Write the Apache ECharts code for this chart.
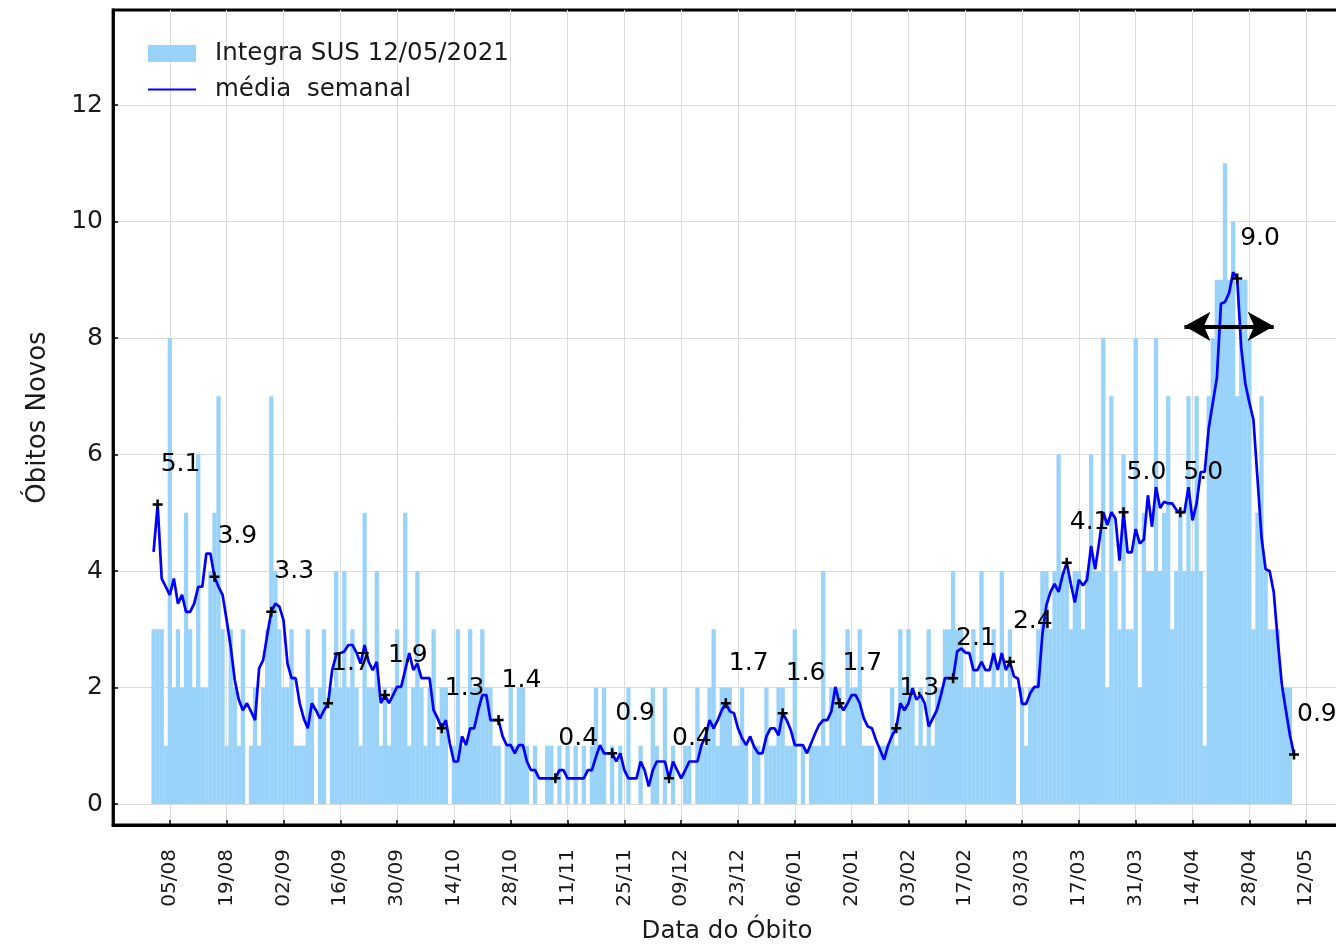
<!DOCTYPE html>
<html><head><meta charset="utf-8">
<script src="https://cdn.jsdelivr.net/npm/echarts@6/dist/echarts.min.js"></script>
<style>html,body{margin:0;padding:0;background:#fff}#c{width:1336px;height:944px}</style>
</head><body><div id="c"></div>
<script>
// ---- data ----
const startDate = '2020-08-01';   // date of first daily value
const originDate = '2020-08-05';  // first labelled tick
const obitos = [
3,3,3,1,8,2,3,2,5,3, 2,6,2,2,4,5,7,3,1,3, 2,1,3,0,1,2,1,2,3,7, 4,3,2,2,
3,1,1,1,3,2,0,2,3,0, 2,4,2,4,2,3,2,1,5,2, 2,4,1,2,1,2,3,2,5,1, 2,4,2,1,2,3,
1,2,2,0,1,3,1,1,3,2, 2,3,2,2,1,1,0,1,2,1, 2,2,1,0,1,0,0,1,1,0, 1,0,1,0,1,0,
1,0,1,2,1,2,0,1,0,1, 0,2,0,0,1,0,0,2,1,0, 2,0,1,0,0,1,1,0,2,1, 1,2,3,1,2,2,
2,1,1,2,1,0,1,1,0,2, 1,1,2,2,1,1,3,0,1,0, 1,1,1,4,1,2,2,2,1,3, 2,2,3,1,1,
1,0,1,1,1,2,1,3,2,3, 2,1,2,1,3,1,2,2,3,3, 4,3,3,2,2,3,2,4,2,2, 3,2,4,2,3,2,
0,2,1,2,2,3,4,4,3,4, 6,4,4,3,4,4,3,4,6,4, 4,8,2,7,4,3,6,3,3,8, 2,5,4,4,8,4,
5,7,3,4,5,4,7,4,7,4, 1,7,8,9,9,11,9,10,7,9, 9,8,3,5,7,4,3,3,3,2, 2,2
];
const media = [
4.33,5.14,3.87,3.73,3.59,3.87,3.44,3.59,3.30,3.30,
3.44,3.73,3.73,4.30,4.30,3.90,3.73,3.59,3.16,2.70,
2.13,1.79,1.61,1.73,1.59,1.44,2.33,2.47,2.90,3.30,
3.44,3.39,3.16,2.41,2.16,2.16,1.73,1.47,1.30,1.73,
1.61,1.47,1.61,1.73,2.30,2.56,2.59,2.62,2.73,2.73,
2.60,2.41,2.73,2.44,2.30,2.44,1.73,1.87,1.73,1.87,
2.01,2.01,2.30,2.59,2.30,2.41,2.16,2.16,2.16,1.61,
1.47,1.30,1.44,1.04,0.73,0.73,1.16,1.01,1.30,1.30,
1.61,1.87,1.87,1.44,1.44,1.44,1.16,1.01,1.01,0.87,
1.01,1.01,0.73,0.58,0.58,0.44,0.44,0.44,0.44,0.44,
0.58,0.58,0.44,0.44,0.44,0.44,0.44,0.58,0.58,0.81,
1.01,0.87,0.87,0.87,0.73,0.87,0.58,0.44,0.44,0.44,
0.73,0.58,0.30,0.58,0.73,0.73,0.73,0.44,0.73,0.58,
0.44,0.58,0.73,0.73,0.73,1.01,1.16,1.44,1.30,1.44,
1.61,1.73,1.59,1.56,1.30,1.13,1.01,1.16,0.98,0.87,
0.87,1.16,1.30,1.30,1.18,1.56,1.44,1.27,1.01,1.01,
1.01,0.87,1.04,1.21,1.36,1.44,1.44,1.59,2.01,1.73,
1.61,1.73,1.87,1.87,1.73,1.47,1.33,1.30,1.10,0.93,
0.76,1.01,1.18,1.30,1.73,1.61,1.73,1.99,1.79,1.87,
1.73,1.33,1.47,1.61,1.87,2.16,2.16,2.16,2.62,2.67,
2.60,2.59,2.30,2.30,2.44,2.30,2.30,2.59,2.30,2.59,
2.30,2.44,2.19,2.15,1.72,1.72,1.90,2.01,2.01,2.91,
3.42,3.64,3.78,3.64,3.93,4.14,3.78,3.46,3.85,3.75,
3.85,4.43,4.03,4.50,5.01,4.79,5.01,4.90,4.18,5.01,
4.32,4.32,4.72,4.47,4.54,5.30,4.76,5.44,5.08,5.19,
5.16,5.16,5.05,5.01,5.01,5.44,4.87,5.16,5.70,5.70,
6.46,6.89,7.32,8.59,8.62,8.77,9.13,9.02,7.83,7.22,
6.89,6.60,5.59,4.58,4.03,4.00,3.64,2.81,2.05,1.61,
1.18,0.85
];
const tickLabels = ['05/08','19/08','02/09','16/09','30/09','14/10','28/10','11/11','25/11','09/12',
  '23/12','06/01','20/01','03/02','17/02','03/03','17/03','31/03','14/04','28/04','12/05'];
const yTicks = [0,2,4,6,8,10,12];
const markerFirstDate = '2020-08-02';   // annotated every 14 days
const markerLabels = ['5.1','3.9','3.3','1.7','1.9','1.3','1.4','0.4','0.9','0.4','1.7',
  '1.6','1.7','1.3','2.1','2.4','4.1','5.0','5.0','9.0','0.9'];
const arrowFrom = ['2021-04-12', 8.2];
const arrowTo = ['2021-05-04', 8.2];
const legendBars = 'Integra SUS 12/05/2021';
const legendLine = 'média  semanal';

// ---- build ----
const DAY = 864e5;
const dayOf = d => Math.round((Date.parse(d) - Date.parse(originDate)) / DAY);
const x0 = dayOf(startDate);
const barData = obitos.map((v, i) => [x0 + i, v]);
const lineData = media.map((v, i) => [x0 + i, v]);
const m0 = dayOf(markerFirstDate) - x0;
const markData = markerLabels.map((t, j) => {
  const k = m0 + 14 * j;
  return { value: [x0 + k, media[k]], label: { formatter: t } };
});
const FONT = 'DejaVu Sans';
const TXT = '#000000';

const chart = echarts.init(document.getElementById('c'), null, { renderer: 'canvas' });
chart.setOption({
  animation: false,
  backgroundColor: '#ffffff',
  textStyle: { fontFamily: FONT },
  grid: { left: 113, top: 10, width: 1250, height: 815, outerBoundsMode: 'none', containLabel: false,
    show: true, borderColor: '#000', borderWidth: 2.8, backgroundColor: 'transparent' },
  legend: {
    orient: 'vertical', left: 142, top: 36, itemWidth: 48, itemHeight: 17, itemGap: 11,
    textStyle: { fontSize: 24.5, fontFamily: FONT, color: '#1a1a1a', padding: [0, 0, 0, 14], lineHeight: 24 },
    data: [{ name: legendBars, icon: 'rect' }, { name: legendLine, itemStyle: { opacity: 0 } }]
  },
  xAxis: {
    type: 'value', min: -14, max: 294, interval: 14,
    axisLine: { show: true, onZero: false, lineStyle: { color: '#000', width: 2.8 } },
    axisTick: { show: true, inside: true, length: 5, lineStyle: { color: '#000', width: 1.5 } },
    axisLabel: {
      rotate: 90, fontSize: 20, fontFamily: FONT, color: '#1a1a1a', margin: 24,
      formatter: v => { const i = v / 14; return (Number.isInteger(i) && i >= 0 && i < tickLabels.length) ? tickLabels[i] : ''; }
    },
    splitLine: { show: true, lineStyle: { color: '#dcdcdc', width: 1 } },
    name: 'Data do Óbito', nameLocation: 'middle', nameGap: 94,
    nameTextStyle: { fontSize: 24.5, fontFamily: FONT, color: '#1a1a1a', padding: [0, 22, 0, 0] }
  },
  yAxis: {
    type: 'value', min: -0.3605, max: 13.631,
    axisLine: { show: true, onZero: false, lineStyle: { color: '#000', width: 2.8 } },
    axisTick: { show: true, inside: true, length: 5, customValues: yTicks, lineStyle: { color: '#000', width: 1.5 } },
    axisLabel: { customValues: yTicks, fontSize: 25, fontFamily: FONT, color: '#1a1a1a', margin: 10 },
    splitLine: { show: true, lineStyle: { color: '#dcdcdc', width: 1 } },
    name: 'Óbitos Novos', nameLocation: 'middle', nameGap: 62, nameRotate: 90,
    nameTextStyle: { fontSize: 26, fontFamily: FONT, color: '#1a1a1a' }
  },
  series: [
    {
      name: legendBars, type: 'bar', data: barData, barWidth: 4.3,
      itemStyle: { color: '#99d3fa' }, z: 1
    },
    {
      name: legendLine, type: 'line', data: lineData, symbol: 'none', showSymbol: false,
      lineStyle: { color: '#0000ff', width: 2.7 }, itemStyle: { color: '#0000ff' }, z: 3
    },
    {
      name: 'marcas', type: 'scatter', data: markData, z: 4,
      symbol: 'path://M3.75,0h2.5v3.75h3.75v2.5h-3.75v3.75h-2.5v-3.75h-3.75v-2.5h3.75z', symbolSize: 10,
      itemStyle: { color: '#000', opacity: 1 },
      label: { show: true, position: 'right', offset: [-7, -40], fontSize: 25, fontFamily: FONT,
        color: TXT, opacity: 1, textBorderWidth: 0, textBorderColor: 'transparent', textShadowBlur: 0 },
      emphasis: { disabled: true },
      markLine: {
        silent: true, animation: false,
        symbol: ['arrow', 'arrow'], symbolSize: [22, 26],
        lineStyle: { color: '#000', width: 4, type: 'solid' },
        label: { show: false },
        data: [[{ coord: [dayOf(arrowFrom[0]), arrowFrom[1]] }, { coord: [dayOf(arrowTo[0]), arrowTo[1]] }]]
      }
    }
  ]
});
</script>
</body></html>
